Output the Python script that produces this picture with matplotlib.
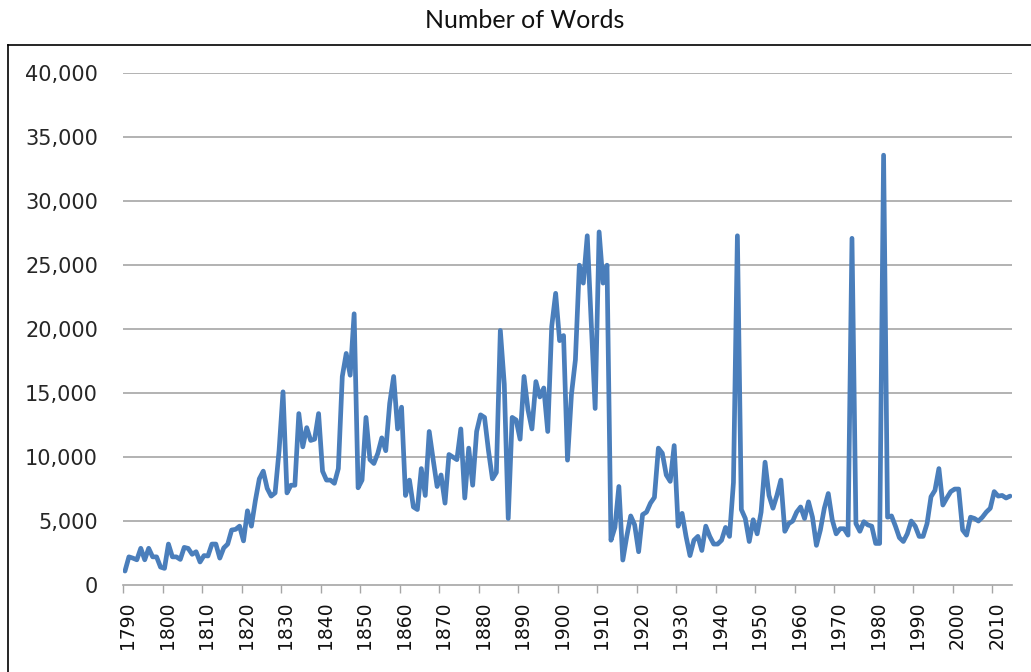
#! /usr/bin/env python3

import matplotlib
matplotlib.use("Agg")
import matplotlib.pyplot as plt
import numpy as np
from matplotlib.lines import Line2D
from matplotlib.ticker import FuncFormatter

# one value per year
years = list(range(1790, 2015))
words = [
    1089, 2200, 2100, 1970, 2870, 1970, 2870, 2200, 2200, 1400,
    1300, 3200, 2200, 2200, 2000, 2940, 2860, 2400, 2600, 1800,
    2300, 2270, 3200, 3200, 2100, 2900, 3200, 4300, 4350, 4600,
    3450, 5800, 4600, 6600, 8300, 8900, 7550, 6950, 7200, 10500,
    15100, 7200, 7800, 7800, 13400, 10800, 12300, 11300, 11400, 13400,
    8900, 8200, 8200, 7950, 9100, 16300, 18100, 16400, 21200, 7600,
    8200, 13100, 9800, 9500, 10300, 11500, 10500, 14200, 16300, 12200,
    13900, 7000, 8200, 6100, 5900, 9100, 7000, 12000, 9800, 7700,
    8600, 6400, 10200, 10000, 9800, 12200, 6800, 10700, 7800, 12000,
    13300, 13100, 10500, 8300, 8800, 19900, 15700, 5200, 13100, 12900,
    11400, 16300, 13700, 12200, 15900, 14700, 15400, 12000, 20200, 22800,
    19100, 19500, 9760, 14900, 17600, 25000, 23600, 27300, 20500, 13800,
    27600, 23600, 25000, 3500, 4500, 7700, 1950, 3800, 5400, 4700,
    2600, 5500, 5700, 6400, 6850, 10700, 10300, 8600, 8100, 10900,
    4600, 5600, 3800, 2300, 3500, 3800, 2700, 4600, 3800, 3200,
    3200, 3500, 4500, 3800, 8000, 27300, 5900, 5200, 3400, 5100,
    4000, 5700, 9600, 7000, 6000, 7000, 8200, 4200, 4800, 5000,
    5700, 6100, 5200, 6500, 5300, 3100, 4300, 6000, 7150, 5100,
    4000, 4400, 4400, 3900, 27100, 4800, 4200, 4950, 4700, 4600,
    3250, 3250, 33600, 5300, 5400, 4600, 3700, 3400, 4000, 5000,
    4600, 3800, 3800, 4800, 6900, 7400, 9100, 6250, 6800, 7300,
    7500, 7500, 4300, 3900, 5300, 5200, 5000, 5300, 5700, 6000,
    7300, 6950, 7000, 6800, 6950,
]
tick_years = list(range(1790, 2011, 10))
y_ticks = list(range(0, 40001, 5000))

W, H = 1031, 672
GRID = "#A6A6A6"


def main():
    fig = plt.figure(figsize=(W / 100, H / 100), dpi=100)
    ax = fig.add_axes([123 / W, 87 / H, 889 / W, 511.7 / H])

    x = np.arange(len(words)) + 0.5
    ax.plot(x, words, color="#4A7EBB", linewidth=3.4,
            solid_joinstyle="round", solid_capstyle="round", zorder=3)

    ax.set_xlim(0, len(words))
    ax.set_ylim(0, 40000)

    # y axis: gridlines, no axis line
    ax.set_yticks(y_ticks)
    ax.yaxis.set_major_formatter(FuncFormatter(lambda v, p: f"{int(v):,}"))
    ax.tick_params(axis="y", length=0, pad=18, labelsize=15,
                   labelcolor="#262626")
    for v in y_ticks[1:]:
        ax.axhline(v, color=GRID, linewidth=1.2, zorder=1)

    # x axis: ticks between categories, labels at category centres
    idx = [y - years[0] for y in tick_years]
    ax.set_xticks(idx)
    ax.set_xticklabels([])
    ax.set_xticks([i + 1.2 for i in idx], minor=True)
    ax.set_xticklabels([str(y) for y in tick_years], minor=True,
                       rotation=90, fontsize=13.5, va="top")
    ax.tick_params(axis="x", which="major", length=6, width=1, color=GRID,
                   direction="out")
    ax.tick_params(axis="x", which="minor", length=0, pad=12,
                   labelcolor="#111111")

    for s in ["top", "right", "left"]:
        ax.spines[s].set_visible(False)
    ax.spines["bottom"].set_color(GRID)
    ax.spines["bottom"].set_linewidth(1.2)

    fig.text(525 / W, 1 - 20 / H, "Number of Words", ha="center",
             va="center", fontsize=18, family="Lato", color="#111111")

    # chart area border (cropped at right and bottom)
    top = 1 - 45 / H
    fig.add_artist(Line2D([7.5 / W, 1.0], [top, top], color="black",
                          linewidth=1.2, transform=fig.transFigure))
    fig.add_artist(Line2D([7.5 / W, 7.5 / W], [top, 0.0], color="black",
                          linewidth=1.2, transform=fig.transFigure))

    fig.savefig("out.png", dpi=100)
    plt.close(fig)


if __name__ == "__main__":
    main()
